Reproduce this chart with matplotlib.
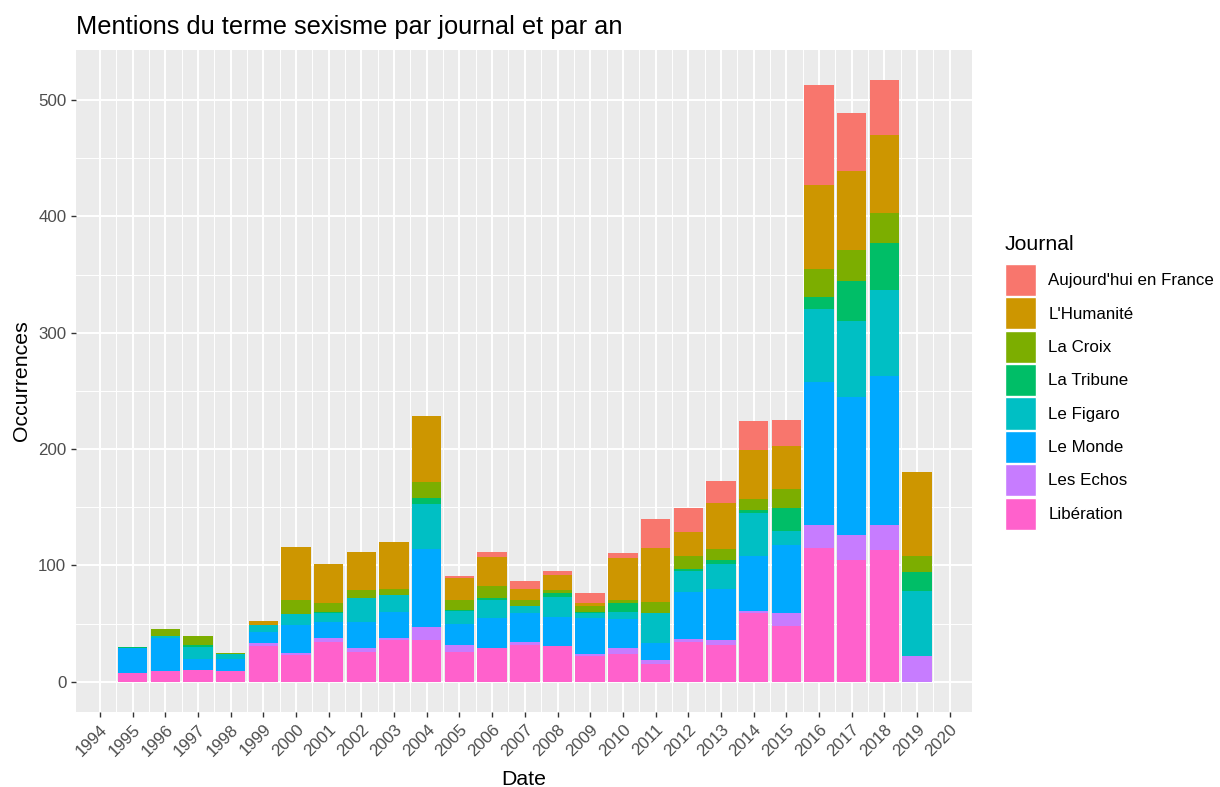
import numpy as np
import matplotlib.pyplot as plt
from matplotlib.patches import Patch

plt.rcParams['font.family'] = ['Liberation Sans', 'DejaVu Sans']

years = list(range(1995, 2020))

# occurrences per journal and per year (1995 -> 2019)
liberation = [8, 9, 10, 9, 31, 23, 34, 26, 36, 36, 26, 29, 32, 31, 22, 24, 15, 34, 32, 59, 48, 115, 105, 113, 0]
les_echos = [0, 0, 0, 0, 2, 2, 4, 3, 2, 11, 6, 0, 2, 0, 2, 5, 4, 3, 4, 2, 11, 20, 21, 22, 22]
le_monde = [21, 29, 10, 11, 10, 24, 13, 22, 22, 67, 18, 26, 25, 25, 31, 25, 14, 40, 44, 47, 59, 123, 119, 128, 0]
le_figaro = [0, 1, 10, 4, 6, 9, 8, 21, 15, 39, 11, 15, 6, 17, 4, 6, 26, 18, 21, 37, 12, 62, 65, 74, 56]
la_tribune = [1, 0, 2, 0, 0, 0, 1, 0, 0, 5, 1, 2, 0, 3, 1, 8, 0, 2, 4, 3, 19, 11, 34, 40, 16]
la_croix = [0, 6, 7, 1, 0, 12, 8, 7, 5, 14, 8, 10, 5, 3, 5, 2, 10, 11, 9, 9, 17, 24, 27, 26, 14]
humanite = [0, 0, 0, 0, 3, 46, 33, 33, 40, 56, 19, 25, 10, 13, 3, 36, 46, 21, 40, 42, 37, 72, 68, 67, 72]
aujourdhui = [0, 0, 0, 0, 0, 0, 0, 0, 0, 0, 2, 5, 7, 3, 8, 5, 25, 20, 19, 25, 22, 86, 50, 47, 0]

journals = ["Aujourd'hui en France", "L'Humanité", "La Croix", "La Tribune",
            "Le Figaro", "Le Monde", "Les Echos", "Libération"]
series = [aujourdhui, humanite, la_croix, la_tribune, le_figaro, le_monde, les_echos, liberation]
colors = ["#F8766D", "#CD9600", "#7CAE00", "#00BE67", "#00BFC4", "#00A9FF", "#C77CFF", "#FF61CC"]

fig = plt.figure(figsize=(12.2, 7.87), dpi=100)
ax = fig.add_axes([76 / 1220, 1 - 712 / 787, (972 - 76) / 1220, (712 - 50) / 787])
ax.set_facecolor("#EBEBEB")

# stack from the bottom (Libération) to the top (Aujourd'hui en France)
bottom = np.zeros(len(years))
for name, vals, col in zip(journals[::-1], series[::-1], colors[::-1]):
    ax.bar(years, vals, width=0.9, bottom=bottom, color=col, linewidth=0, zorder=3)
    bottom += np.array(vals)

ax.set_xlim(1993.27, 2020.68)
ax.set_ylim(-25.9, 542.9)
ax.set_xticks(range(1994, 2021))
ax.set_xticks(np.arange(1994.5, 2020.5, 1), minor=True)
ax.set_yticks([0, 100, 200, 300, 400, 500])
ax.set_yticks([50, 150, 250, 350, 450], minor=True)
ax.grid(True, which='major', color='white', linewidth=1.4, zorder=0)
ax.grid(True, which='minor', color='white', linewidth=0.7, zorder=0)
for s in ax.spines.values():
    s.set_visible(False)

ax.tick_params(which='major', length=3.5, width=1, color='#333333', labelcolor='#4D4D4D', labelsize=12.2)
ax.tick_params(which='minor', length=0)
plt.setp(ax.get_xticklabels(), rotation=45, ha='right', rotation_mode='anchor')

ax.set_xlabel('Date', fontsize=15.3, labelpad=8)
ax.set_ylabel('Occurrences', fontsize=15.3, labelpad=5)
fig.text(76 / 1220, 1 - 27 / 787, 'Mentions du terme sexisme par journal et par an',
         fontsize=18.3, va='center', ha='left')

# legend: title as its own text, keys below
fig.text(1005 / 1220, 1 - 245 / 787, 'Journal', fontsize=15.3, va='center', ha='left')
handles = [Patch(facecolor=c, edgecolor='white', linewidth=1) for c in colors]
leg = fig.legend(handles, journals, loc='upper left', bbox_to_anchor=(1005 / 1220, 1 - 264 / 787),
                 frameon=False, fontsize=12.2,
                 handlelength=1.85, handleheight=2.53, labelspacing=0.08, handletextpad=0.7,
                 borderpad=0, borderaxespad=0)

fig.savefig('out.png', dpi=100)
